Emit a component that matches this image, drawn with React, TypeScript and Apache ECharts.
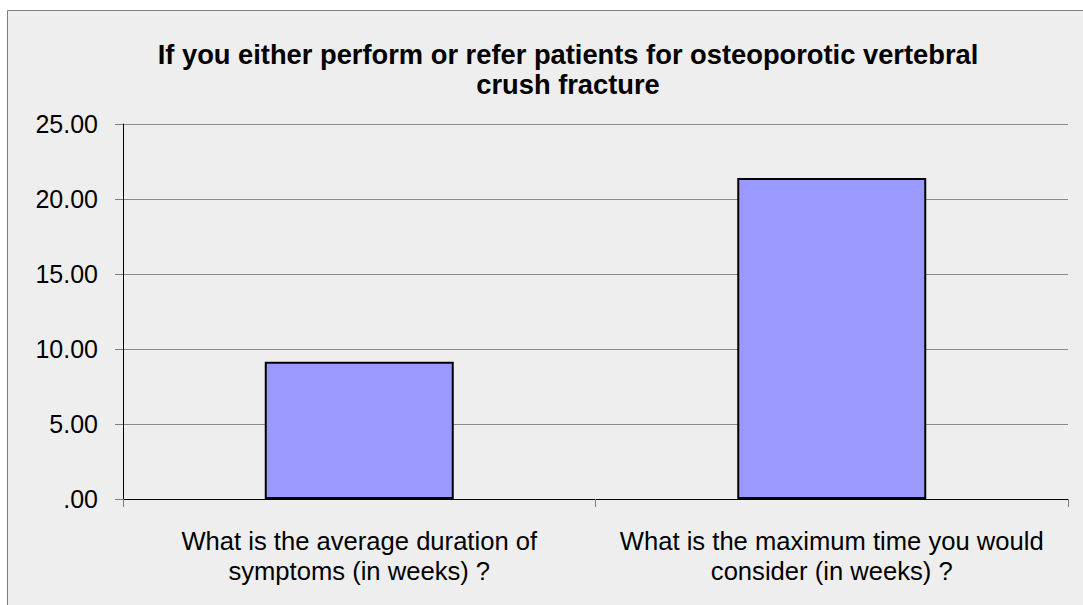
import React, { useEffect, useRef } from "react";
import * as echarts from "echarts";

const titleLines = [
  "If you either perform or refer patients for osteoporotic vertebral",
  "crush fracture",
];
const categories = [
  "What is the average duration of\nsymptoms (in weeks) ?",
  "What is the maximum time you would\nconsider (in weeks) ?",
];
const values = [9.15, 21.4];
const yTickValues = [0, 5, 10, 15, 20, 25];
const yTickLabels = [".00", "5.00", "10.00", "15.00", "20.00", "25.00"];

const FONT = "'Liberation Sans', Arial, sans-serif";

export default function App() {
  const ref = useRef<HTMLDivElement>(null);
  useEffect(() => {
    if (!ref.current) return;
    const chart = echarts.init(ref.current, undefined, { renderer: "svg" });
    chart.setOption({
      animation: false,
      backgroundColor: "#ffffff",
      title: {
        text: titleLines.join("\n"),
        left: 568,
        top: 39,
        padding: 0,
        textAlign: "center",
        textStyle: {
          fontFamily: FONT,
          fontSize: 27.3,
          fontWeight: "bold",
          color: "#000000",
          lineHeight: 30,
        },
      },
      graphic: {
        elements: [
          {
            type: "rect",
            z: -100,
            shape: { x: 7.5, y: 10.5, width: 1200, height: 700 },
            style: { fill: "#eeeeee", stroke: "#808080", lineWidth: 1 },
            silent: true,
          },
        ],
      },
      grid: { left: 123, right: 15, top: 124, bottom: 106, containLabel: false },
      xAxis: {
        type: "category",
        data: categories,
        axisLine: { show: true, lineStyle: { color: "#000000", width: 1 } },
        axisTick: { show: true, length: 8, lineStyle: { color: "#808080" } },
        axisLabel: {
          interval: 0,
          hideOverlap: false,
          margin: 27,
          fontFamily: FONT,
          fontSize: 25.6,
          color: "#000000",
          lineHeight: 30,
          align: "center",
        },
        splitLine: { show: false },
      },
      yAxis: {
        type: "value",
        min: 0,
        max: 25,
        interval: 5,
        axisLine: { show: true, lineStyle: { color: "#000000", width: 1 } },
        axisTick: { show: true, length: 8, lineStyle: { color: "#808080" } },
        axisLabel: {
          margin: 25,
          fontFamily: FONT,
          fontSize: 25,
          color: "#000000",
          formatter: (v: number) => {
            const i = yTickValues.indexOf(v);
            return i >= 0 ? yTickLabels[i] : String(v);
          },
        },
        splitLine: { show: true, lineStyle: { color: "#8c8c8c", width: 1 } },
      },
      series: [
        {
          type: "bar",
          data: values,
          barWidth: "40%",
          itemStyle: { color: "#9999ff", borderColor: "#000000", borderWidth: 2 },
        },
      ],
    });
    return () => chart.dispose();
  }, []);
  return (
    <div
      ref={ref}
      style={{ position: "absolute", left: 0, top: 0, width: 1083, height: 605 }}
    />
  );
}
